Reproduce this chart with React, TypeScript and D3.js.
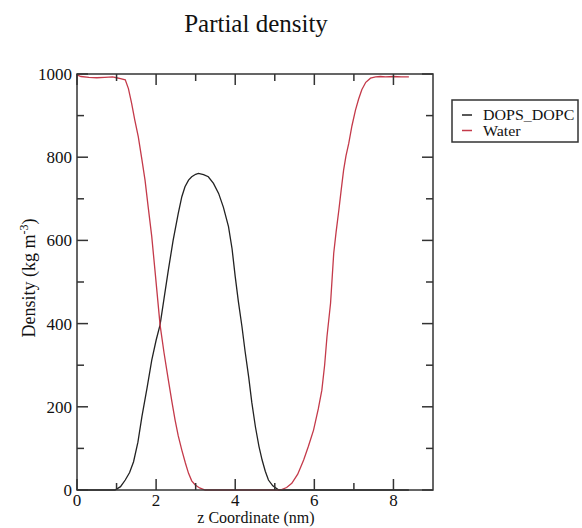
import React from "react";
import * as d3 from "d3";

const waterX = [0, 0.1, 0.3, 0.5, 0.7, 0.9, 1.0, 1.1, 1.22, 1.3, 1.38, 1.46, 1.55, 1.64, 1.72, 1.8, 1.89, 1.97, 2.1, 2.2, 2.31, 2.4, 2.48, 2.56, 2.65, 2.74, 2.82, 2.9, 2.99, 3.1, 3.24, 4.0, 5.14, 5.3, 5.43, 5.58, 5.73, 5.85, 5.98, 6.1, 6.19, 6.26, 6.32, 6.41, 6.49, 6.55, 6.62, 6.68, 6.74, 6.8, 6.87, 6.95, 7.04, 7.12, 7.2, 7.3, 7.42, 7.55, 7.67, 7.8, 8.0, 8.2, 8.39];
const waterY = [998, 994, 992, 991, 992, 993, 991, 989, 986, 965, 930, 890, 849, 795, 745, 680, 609, 529, 397, 330, 264, 212, 168, 130, 96, 65, 40, 22, 12, 5, 0, 0, 0, 6, 16, 38, 72, 105, 144, 195, 240, 300, 369, 449, 569, 620, 673, 722, 769, 803, 833, 875, 913, 940, 962, 980, 990, 993, 994, 993, 994, 993, 993];

const lipidX = [0, 0.96, 1.1, 1.22, 1.33, 1.43, 1.54, 1.64, 1.77, 1.89, 2.0, 2.1, 2.2, 2.31, 2.43, 2.56, 2.65, 2.73, 2.82, 2.9, 3.0, 3.07, 3.2, 3.32, 3.45, 3.58, 3.7, 3.83, 3.92, 4.0, 4.08, 4.17, 4.25, 4.34, 4.42, 4.51, 4.6, 4.68, 4.76, 4.84, 4.95, 5.1, 8.39];
const lipidY = [0, 0, 8, 24, 42, 68, 115, 176, 245, 312, 360, 397, 460, 529, 600, 665, 705, 729, 745, 753, 759, 761, 758, 753, 737, 713, 680, 633, 580, 513, 453, 393, 333, 272, 210, 152, 105, 72, 45, 24, 10, 0, 0];

const seriesNames = ["DOPS_DOPC", "Water"];
const seriesColors = ["#222222", "#c43a4a"];
const xMajor = [0, 2, 4, 6, 8];
const xMinor = [1, 3, 5, 7];
const yMajor = [0, 200, 400, 600, 800, 1000];
const yMinor = [100, 300, 500, 700, 900];

export default function App() {
  const W = 582, H = 528;
  const left = 77, right = 433, top = 74, bottom = 490;
  const x = d3.scaleLinear().domain([0, 9]).range([left, right]);
  const y = d3.scaleLinear().domain([0, 1000]).range([bottom, top]);
  const line = d3.line<[number, number]>().x(d => x(d[0])).y(d => y(d[1]));
  const lipid = lipidX.map((v, i) => [v, lipidY[i]] as [number, number]);
  const water = waterX.map((v, i) => [v, waterY[i]] as [number, number]);
  const tf = { fontFamily: "'Liberation Serif', 'Times New Roman', Times, serif" };
  const frame = "#333";
  const majL = 11, minL = 7;
  return (
    <svg width={W} height={H} style={{ position: "absolute", left: 0, top: 0, background: "#fff" }}>
      <text x={256} y={32} textAnchor="middle" fontSize={25} fill="#111" style={tf}>Partial density</text>
      <path d={line(lipid) || ""} fill="none" stroke={seriesColors[0]} strokeWidth={1.3} />
      <path d={line(water) || ""} fill="none" stroke={seriesColors[1]} strokeWidth={1.3} />
      <rect x={left} y={top} width={right - left} height={bottom - top} fill="none" stroke={frame} strokeWidth={1.5} />
      {xMajor.map(t => (
        <g key={"xm" + t}>
          <line x1={x(t)} x2={x(t)} y1={bottom} y2={bottom - majL} stroke={frame} strokeWidth={1.5} />
          <line x1={x(t)} x2={x(t)} y1={top} y2={top + majL} stroke={frame} strokeWidth={1.5} />
          <text x={x(t)} y={506} textAnchor="middle" fontSize={17} fill="#111" style={tf}>{t}</text>
        </g>
      ))}
      {xMinor.map(t => (
        <g key={"xn" + t}>
          <line x1={x(t)} x2={x(t)} y1={bottom} y2={bottom - minL} stroke={frame} strokeWidth={1.5} />
          <line x1={x(t)} x2={x(t)} y1={top} y2={top + minL} stroke={frame} strokeWidth={1.5} />
        </g>
      ))}
      {yMajor.map(t => (
        <g key={"ym" + t}>
          <line x1={left} x2={left + majL} y1={y(t)} y2={y(t)} stroke={frame} strokeWidth={1.5} />
          <line x1={right} x2={right - majL} y1={y(t)} y2={y(t)} stroke={frame} strokeWidth={1.5} />
          <text x={72} y={y(t)} dy="0.35em" textAnchor="end" fontSize={17} fill="#111" style={tf}>{t}</text>
        </g>
      ))}
      {yMinor.map(t => (
        <g key={"yn" + t}>
          <line x1={left} x2={left + minL} y1={y(t)} y2={y(t)} stroke={frame} strokeWidth={1.5} />
          <line x1={right} x2={right - minL} y1={y(t)} y2={y(t)} stroke={frame} strokeWidth={1.5} />
        </g>
      ))}
      <text x={256} y={523} textAnchor="middle" fontSize={16} fill="#111" style={tf}>z Coordinate (nm)</text>
      <text transform={`translate(35,278) rotate(-90)`} textAnchor="middle" fontSize={18} fill="#111" style={tf}>
        Density (kg m<tspan dy={-7} fontSize={12}>-3</tspan><tspan dy={7}>)</tspan>
      </text>
      <rect x={452} y={100} width={126} height={42} fill="#fff" stroke={frame} strokeWidth={1.5} />
      {seriesNames.map((n, i) => (
        <g key={n}>
          <line x1={462} x2={472} y1={115 + i * 15.5} y2={115 + i * 15.5} stroke={seriesColors[i]} strokeWidth={1.5} />
          <text transform={`translate(483,${120 + i * 15.5}) scale(1.14,1)`} fontSize={14} fill="#111" style={tf}>{n}</text>
        </g>
      ))}
    </svg>
  );
}
